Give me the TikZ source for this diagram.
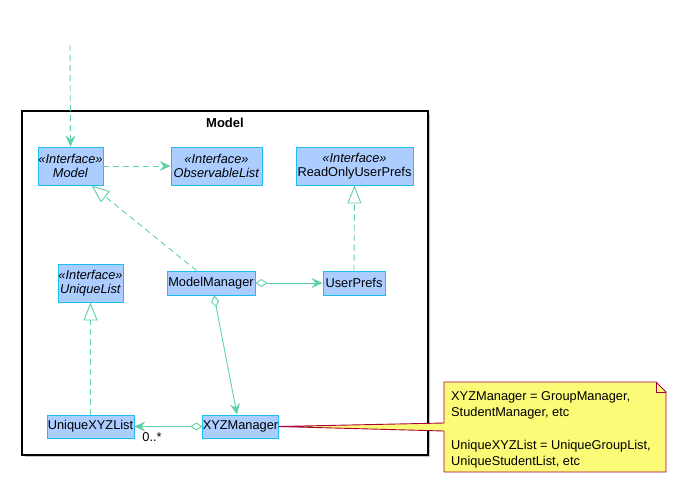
\documentclass[tikz,border=0pt]{standalone}
\usepackage{fontspec}
\setmainfont{Liberation Sans}
\usetikzlibrary{arrows.meta}

\definecolor{clsfill}{HTML}{ABCDFF}
\definecolor{clsline}{HTML}{1CBDF2}
\definecolor{linkcol}{HTML}{5FD2A6}
\definecolor{notefill}{HTML}{FBFB77}
\definecolor{noteline}{HTML}{A80036}

\begin{document}
\begin{tikzpicture}[x=1pt,y=-1pt,
  font=\fontsize{12.8}{13.5}\selectfont,
  cls/.style={draw=clsline, fill=clsfill, line width=0.9pt, inner sep=0pt,
    align=center, minimum height=24pt},
  iface/.style={cls, minimum height=38pt},
  link/.style={draw=linkcol, line width=0.9pt},
  dashline/.style={link, dash pattern=on 6pt off 4pt},
  headopen/.style={-{Stealth[length=11pt,width=10pt,inset=4pt,fill=linkcol]}},
  realize/.style={dashline, -{Triangle[open,length=18pt,width=14pt,fill=white]}},
  aggr/.style={link, {Diamond[open,length=12pt,width=8pt,fill=white]}-{Stealth[length=11pt,width=10pt,inset=4pt,fill=linkcol]}},
  notetext/.style={anchor=base west, inner sep=0pt}
]
\useasboundingbox (0,0) rectangle (676,483);

% package frame with its shadow
\fill[gray!45] (24.5,113.5) rectangle (430,457);
\draw[black, line width=1.3pt, fill=white] (22,111) rectangle (428,455);
\node[font=\fontsize{13}{14}\selectfont\bfseries] (pkg) at (225,123) {Model};

% classes and interfaces
\node[iface, minimum width=65pt] (model) at (70.5,166)
  {\textit{«Interface»}\\\textit{Model}};
\node[iface, minimum width=91pt] (obs) at (216.5,166)
  {\textit{«Interface»}\\\textit{ObservableList}};
\node[iface, minimum width=117pt] (rup) at (354.5,166)
  {\textit{«Interface»}\\ReadOnlyUserPrefs};
\node[iface, minimum width=65pt] (ulist) at (90.5,283)
  {\textit{«Interface»}\\\textit{UniqueList}};
\node[cls, minimum width=88pt] (mm) at (211,283) {ModelManager};
\node[cls, minimum width=62pt] (prefs) at (354,283) {UserPrefs};
\node[cls, minimum width=87pt, minimum height=23pt] (uxyz) at (90.5,426.5) {UniqueXYZList};
\node[cls, minimum width=75pt, minimum height=23pt] (xyz) at (240.5,426.5) {XYZManager};

% incoming dependency from outside the package
\coordinate (ext) at (70,45);
\draw[dashline, headopen] (ext) -- (model.north);

% dependencies and realizations
\draw[dashline, headopen] (model.east) -- (obs.west);
\draw[realize] ([xshift=30pt]mm.north west) -- ([xshift=21pt]model.south);
\draw[realize] (prefs.north) -- (rup.south);
\draw[realize] (uxyz.north) -- (ulist.south);

% aggregations
\draw[aggr] (mm.east) -- (prefs.west);
\draw[aggr] ([xshift=3pt]mm.south) -- ([xshift=-3.5pt]xyz.north);
\draw[aggr] (xyz.west) -- (uxyz.east);
\node (mult) at (152,437) {0..*};

% note with its pointer
\coordinate (nA) at (444,382);
\coordinate (nB) at (656,382);
\coordinate (nC) at (666,392);
\coordinate (nD) at (666,472);
\coordinate (nE) at (444,472);
\coordinate (nF) at (444,431);
\coordinate (nG) at (444,423);
\draw[noteline, fill=notefill, line width=0.9pt, line join=miter]
  (nA) -- (nB) -- (nC) -- (nD) -- (nE) -- (nF) -- (xyz.east) -- (nG) -- cycle;
\draw[noteline, line width=0.9pt] (nB) -- (656,392) -- (nC);
\node[notetext] (n1) at (451,400) {XYZManager = GroupManager,};
\node[notetext] (n2) at (451,416.5) {StudentManager, etc};
\node[notetext] (n3) at (451,449) {UniqueXYZList = UniqueGroupList,};
\node[notetext] (n4) at (451,465.5) {UniqueStudentList, etc};
\end{tikzpicture}
\end{document}
